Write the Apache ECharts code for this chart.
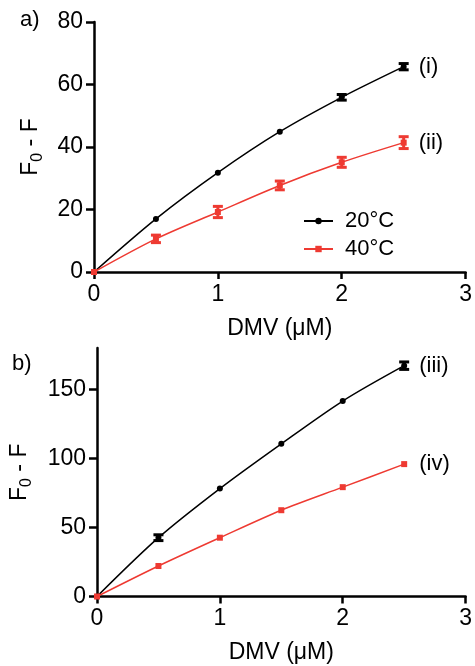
<!DOCTYPE html>
<html><head><meta charset="utf-8">
<script src="https://cdn.jsdelivr.net/npm/echarts@6/dist/echarts.min.js"></script>
<style>html,body{margin:0;padding:0;background:#fff}#c{width:475px;height:666px}</style>
</head><body><div id="c"></div>
<script>
const dmv = [0, 0.5, 1, 1.5, 2, 2.5];
const a20 = [0, 17.0, 31.8, 44.9, 55.9, 65.7];
const a20err = [0, 0, 0, 0, 0.9, 1.0];
const a40 = [0, 10.6, 19.2, 27.7, 35.1, 41.4];
const a40err = [0, 1.2, 1.8, 1.4, 1.6, 1.9];
const b20 = [0, 42.6, 78.2, 110.6, 141.6, 167.2];
const b20err = [0, 2.1, 0, 0, 0, 2.7];
const b40 = [0, 22.1, 42.6, 62.5, 79.2, 95.9];
const b40err = [0, 0, 0, 0, 0, 0];
const xTicks = [0, 1, 2, 3];
const yTicksA = [0, 20, 40, 60, 80];
const yTicksB = [0, 50, 100, 150];
const seriesNames = ['20°C', '40°C'];
const tagsA = ['(i)', '(ii)'];
const tagsB = ['(iii)', '(iv)'];
const panelTags = ['a)', 'b)'];
const xTitle = 'DMV (μM)';

const FONT = '"Liberation Sans", Arial, sans-serif';
const BLACK = '#000000';
const RED = '#ee3a32';

function lineSeries(name, ys, color, symbol, gi, tag) {
  const last = dmv.length - 1;
  return {
    type: 'line', name, xAxisIndex: gi, yAxisIndex: gi,
    data: dmv.map((x, i) => [x, ys[i]]),
    smooth: 0.3, symbol, symbolSize: 6,
    itemStyle: { color }, lineStyle: { color, width: 1.5 },
    label: {
      show: true, position: 'right', distance: 12,
      formatter: p => (p.dataIndex === last ? tag : ''),
      fontSize: 22, color: '#000', fontFamily: FONT
    },
    z: color === RED ? 3 : 2
  };
}
function errSeries(ys, errs, color, gi) {
  return {
    type: 'custom', xAxisIndex: gi, yAxisIndex: gi, z: 6,
    data: dmv.map((x, i) => [x, ys[i], errs[i]]).filter(d => d[2] > 0),
    encode: { x: 0, y: 1 },
    renderItem(params, api) {
      const x = api.value(0), y = api.value(1), e = api.value(2);
      const t = api.coord([x, y + e]), b = api.coord([x, y - e]);
      const hw = 5;
      return {
        type: 'group', children: [
          { type: 'line', shape: { x1: t[0], y1: t[1], x2: b[0], y2: b[1] }, style: { stroke: color, lineWidth: 3 } },
          { type: 'line', shape: { x1: t[0] - hw, y1: t[1], x2: t[0] + hw, y2: t[1] }, style: { stroke: color, lineWidth: 3 } },
          { type: 'line', shape: { x1: b[0] - hw, y1: b[1], x2: b[0] + hw, y2: b[1] }, style: { stroke: color, lineWidth: 3 } }
        ]
      };
    }
  };
}
const yName = '{a|F}{s|0}{a| - F}';
const yNameStyle = {
  fontFamily: FONT, color: '#000',
  rich: {
    a: { fontSize: 23, lineHeight: 23, verticalAlign: 'top', fontFamily: FONT, color: '#000' },
    s: { fontSize: 16, height: 16, lineHeight: 27, verticalAlign: 'bottom', fontFamily: FONT, color: '#000' }
  }
};
function xAxis(gi) {
  return {
    type: 'value', gridIndex: gi, min: 0, max: 3, interval: 1,
    name: xTitle, nameLocation: 'middle', nameGap: 45,
    nameTextStyle: { fontSize: 23, fontFamily: FONT, color: '#000' },
    axisLine: { lineStyle: { color: '#000', width: 2.5 } },
    axisTick: { length: 7, lineStyle: { width: 2.5, color: '#000' }, customValues: xTicks },
    axisLabel: { fontSize: 23, fontFamily: FONT, color: '#000', margin: 11, customValues: xTicks },
    splitLine: { show: false }
  };
}
function yAxis(gi, max, interval, ticks, gap) {
  return {
    type: 'value', gridIndex: gi, min: 0, max, interval,
    name: yName, nameLocation: 'middle', nameGap: gap, nameRotate: 90,
    nameTextStyle: yNameStyle,
    axisLine: { show: true, lineStyle: { color: '#000', width: 2.5 } },
    axisTick: { show: true, length: 8, lineStyle: { width: 2.5, color: '#000' }, customValues: ticks },
    axisLabel: { fontSize: 23, fontFamily: FONT, color: '#000', margin: 11, customValues: ticks },
    splitLine: { show: false }
  };
}

const chart = echarts.init(document.getElementById('c'), null, { renderer: 'canvas' });
chart.setOption({
  backgroundColor: '#fff',
  animation: false,
  textStyle: { fontFamily: FONT },
  grid: [
    { left: 94, top: 22, width: 374, height: 250 },
    { left: 94, top: 348, width: 374, height: 248.5 }
  ],
  xAxis: [xAxis(0), xAxis(1)],
  yAxis: [yAxis(0, 80, 20, yTicksA, 48), yAxis(1, 180, 10, yTicksB, 62)],
  legend: {
    data: seriesNames, orient: 'vertical', left: 303, top: 210, padding: 0,
    itemWidth: 29, itemHeight: 8, itemGap: 6,
    textStyle: { fontSize: 22, fontFamily: FONT, color: '#000', padding: [0, 0, 0, 7] }
  },
  graphic: [
    { type: 'text', left: 20, top: 9, style: { text: panelTags[0], fontSize: 22, fontFamily: FONT, fill: '#000' } },
    { type: 'text', left: 12, top: 353, style: { text: panelTags[1], fontSize: 22, fontFamily: FONT, fill: '#000' } }
  ],
  series: [
    lineSeries(seriesNames[0], a20, BLACK, 'circle', 0, tagsA[0]),
    lineSeries(seriesNames[1], a40, RED, 'rect', 0, tagsA[1]),
    lineSeries(seriesNames[0], b20, BLACK, 'circle', 1, tagsB[0]),
    lineSeries(seriesNames[1], b40, RED, 'rect', 1, tagsB[1]),
    errSeries(a20, a20err, BLACK, 0),
    errSeries(a40, a40err, RED, 0),
    errSeries(b20, b20err, BLACK, 1),
    errSeries(b40, b40err, RED, 1)
  ]
});
</script></body></html>
